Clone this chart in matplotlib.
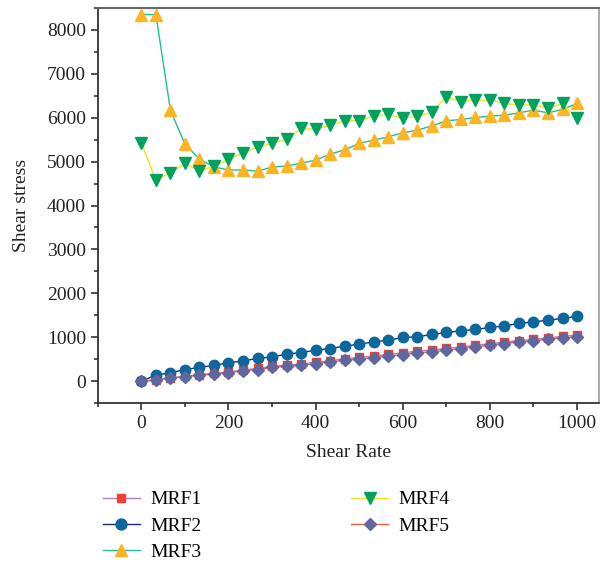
import matplotlib
matplotlib.use("Agg")
from matplotlib import pyplot as plt
from matplotlib.ticker import MultipleLocator

# shear rate (x) values
shear_rate = [0, 33.3, 66.7, 100, 133.3, 166.7, 200, 233.3, 266.7, 300, 333.3,
              366.7, 400, 433.3, 466.7, 500, 533.3, 566.7, 600, 633.3, 666.7,
              700, 733.3, 766.7, 800, 833.3, 866.7, 900, 933.3, 966.7, 1000]

# shear stress for each fluid
mrf1 = [0, 30, 80, 110, 150, 175, 210, 255, 290, 335, 365, 390, 430, 465, 510,
        540, 575, 610, 645, 685, 710, 745, 780, 815, 855, 890, 925, 950, 985,
        1020, 1050]
mrf2 = [0, 137, 190, 266, 312, 364, 417, 462, 517, 554, 615, 653, 706, 744, 797,
        843, 895, 934, 995, 1010, 1064, 1109, 1146, 1177, 1223, 1260, 1314, 1351,
        1390, 1428, 1480]
mrf3 = [8350, 8350, 6170, 5400, 5060, 4880, 4810, 4810, 4785, 4875, 4900, 4965,
        5035, 5170, 5270, 5415, 5490, 5565, 5655, 5715, 5815, 5930, 5960, 6005,
        6035, 6060, 6110, 6175, 6110, 6190, 6325]
mrf4 = [5430, 4580, 4745, 4960, 4785, 4895, 5050, 5200, 5335, 5415, 5510, 5755,
        5735, 5830, 5930, 5930, 6035, 6075, 5985, 6035, 6120, 6475, 6365, 6400,
        6400, 6325, 6285, 6300, 6210, 6325, 5985]
mrf5 = [0, 25, 75, 98, 137, 160, 190, 235, 266, 312, 342, 364, 402, 437, 478,
        501, 539, 569, 607, 645, 668, 706, 744, 782, 820, 858, 895, 918, 957,
        987, 1010]

labels = ["MRF1", "MRF2", "MRF3", "MRF4", "MRF5"]

plt.rcParams['font.family'] = ['Liberation Serif', 'DejaVu Serif']

fig = plt.figure(figsize=(6.0, 5.67), dpi=100)
ax = fig.add_axes([0.163, 0.289, 0.835, 0.697])

# series: data, line colour, marker, marker colour, marker size
ax.plot(shear_rate, mrf1, color='#b07cc6', lw=1, marker='s', ms=5.5,
        mfc='#f04030', mec='#f04030', label=labels[0])
ax.plot(shear_rate, mrf2, color='#1f2a80', lw=1, marker='o', ms=7.5,
        mfc='#0b679c', mec='#0b679c', label=labels[1])
ax.plot(shear_rate, mrf3, color='#20c09a', lw=1, marker='^', ms=8.5,
        mfc='#fbb524', mec='#fbb524', label=labels[2])
ax.plot(shear_rate, mrf4, color='#f2e020', lw=1, marker='v', ms=8.5,
        mfc='#00a25e', mec='#00a25e', label=labels[3])
ax.plot(shear_rate, mrf5, color='#e8603e', lw=1, marker='D', ms=6,
        mfc='#60669e', mec='#60669e', label=labels[4])

ax.set_xlim(-100, 1050)
ax.set_ylim(-500, 8500)
ax.xaxis.set_major_locator(MultipleLocator(200))
ax.xaxis.set_minor_locator(MultipleLocator(100))
ax.yaxis.set_major_locator(MultipleLocator(1000))
ax.yaxis.set_minor_locator(MultipleLocator(500))
ax.tick_params(which='major', direction='out', length=5, width=1.2,
               labelsize=14, color='#333333', labelcolor='#222222')
ax.tick_params(which='minor', direction='out', length=3, width=1.2,
               color='#333333')

for side in ['left', 'bottom']:
    ax.spines[side].set_color('#333333')
    ax.spines[side].set_linewidth(1.3)
ax.spines['top'].set_color('#666666')
ax.spines['top'].set_linewidth(1.5)
ax.spines['right'].set_color('#999999')
ax.spines['right'].set_linewidth(1.2)

ax.set_xlabel("Shear Rate", fontsize=14, color='#222222', labelpad=9)
ax.set_ylabel("Shear stress", fontsize=14, color='#222222', labelpad=12)

ax.legend(loc='upper left', bbox_to_anchor=(0.158, 0.148),
          bbox_transform=fig.transFigure, ncol=2, frameon=False,
          fontsize=14, handlelength=1.9, columnspacing=7.7,
          labelspacing=0.45, handletextpad=0.55, borderaxespad=0,
          markerscale=1.05)

fig.savefig("out.png", dpi=100)
